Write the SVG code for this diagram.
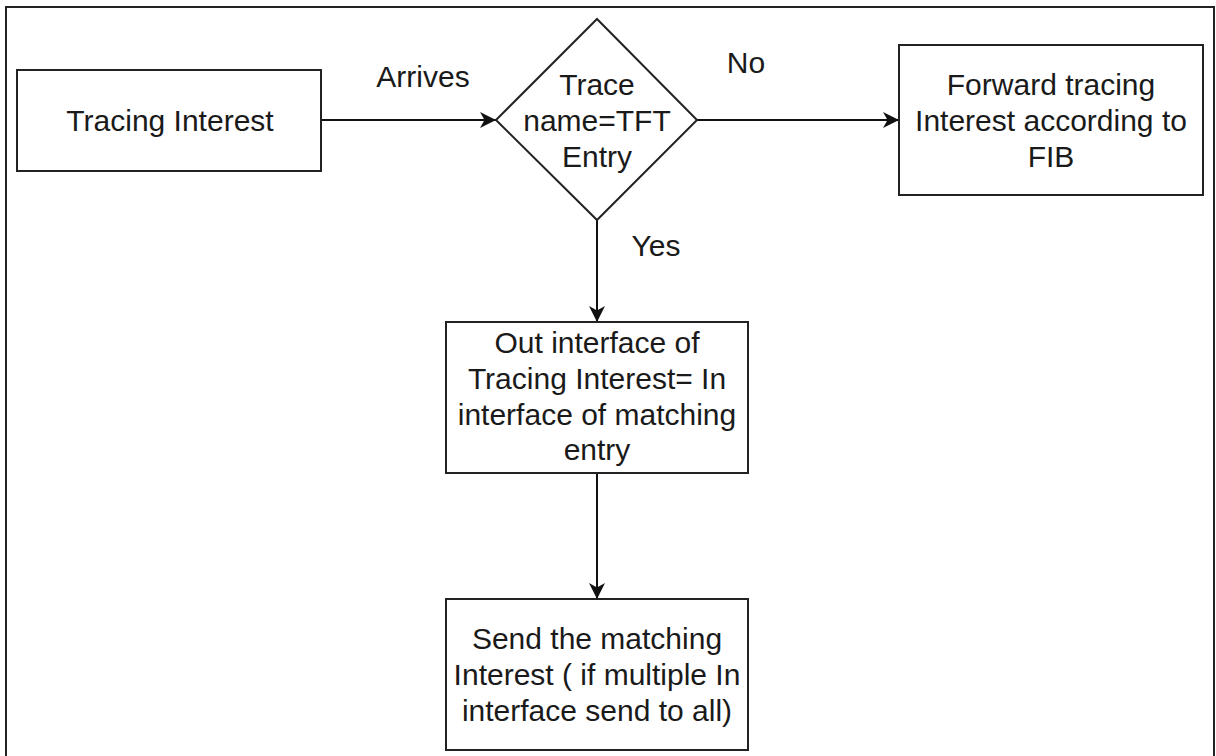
<svg xmlns="http://www.w3.org/2000/svg" width="1216" height="756" viewBox="0 0 1216 756">
<style>
.box{fill:#fff;stroke:#222;stroke-width:2}
.frame{fill:#fff;stroke:#222;stroke-width:2}
text{font-family:"Liberation Sans",Arial,sans-serif;font-size:30px;fill:#1a1a1a;text-anchor:middle}
.edge{fill:none;stroke:#111;stroke-width:2;marker-end:url(#arr)}
</style>
<defs>
<marker id="arr" markerUnits="userSpaceOnUse" markerWidth="17" markerHeight="17" refX="16" refY="8" orient="auto" viewBox="0 0 17 16">
<path d="M0,0 L16,8 L0,16 L4.5,8 Z" fill="#111"/>
</marker>
</defs>
<rect class="frame" x="6" y="7" width="1208" height="800"/>
<g id="connectors">
<line class="edge" x1="321" y1="120" x2="496" y2="120"/>
<line class="edge" x1="697" y1="120" x2="899" y2="120"/>
<line class="edge" x1="597" y1="220" x2="597" y2="322"/>
<line class="edge" x1="597" y1="473" x2="597" y2="599"/>
<text x="423" y="87">Arrives</text>
<text x="746" y="73">No</text>
<text x="656" y="256">Yes</text>
</g>
<g id="tracing-interest">
<rect class="box" x="17" y="70" width="304" height="101"/>
<text x="170" y="131">Tracing Interest</text>
</g>
<g id="decision">
<polygon class="box" points="597,19 697,120 597,220 496,120"/>
<text x="597" y="95">Trace</text>
<text x="597" y="131">name=TFT</text>
<text x="597" y="167">Entry</text>
</g>
<g id="forward">
<rect class="box" x="899" y="45" width="304" height="150"/>
<text x="1051" y="95">Forward tracing</text>
<text x="1051" y="131">Interest according to</text>
<text x="1051" y="167">FIB</text>
</g>
<g id="out-interface">
<rect class="box" x="446" y="322" width="302" height="151"/>
<text x="597" y="353">Out interface of</text>
<text x="597" y="389">Tracing Interest= In</text>
<text x="597" y="425">interface of matching</text>
<text x="597" y="460">entry</text>
</g>
<g id="send">
<rect class="box" x="446" y="599" width="302" height="151"/>
<text x="597" y="649">Send the matching</text>
<text x="597" y="685">Interest ( if multiple In</text>
<text x="597" y="721">interface send to all)</text>
</g>
</svg>
